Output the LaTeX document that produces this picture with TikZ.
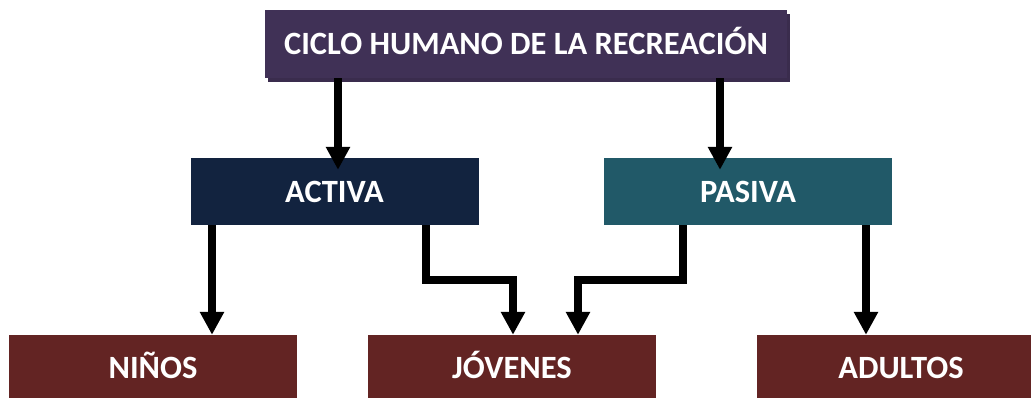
\documentclass[tikz,border=0pt]{standalone}
\usepackage{fontspec}
\setmainfont{Carlito}
\usetikzlibrary{arrows.meta,shadows}

\definecolor{ciclo}{HTML}{403156}
\definecolor{activa}{HTML}{12233F}
\definecolor{pasiva}{HTML}{215968}
\definecolor{edad}{HTML}{632423}

\begin{document}
\begin{tikzpicture}[x=1pt, y=-1pt,
    caja/.style={rectangle, minimum width=288pt, minimum height=67pt, text=white,
      font=\fontsize{32.5}{38}\selectfont\bfseries, text height=21pt, text depth=0pt},
    flecha/.style={line width=8pt, -{Triangle[length=23pt,width=23pt]}}]
    \useasboundingbox (0,0) rectangle (1031,397);

    \node[caja, fill=ciclo, minimum width=522pt, minimum height=68pt,
      drop shadow={shadow xshift=3pt, shadow yshift=-4pt, fill=ciclo!90!black, opacity=1}]
      (ciclo) at (526,44) {CICLO HUMANO DE LA RECREACIÓN};
    \node[caja, fill=activa] (activa) at (334.5,191.5) {ACTIVA};
    \node[caja, fill=pasiva] (pasiva) at (748,191.5) {PASIVA};
    \node[caja, fill=edad, minimum height=65pt] (ninos) at (153,367.5) {NIÑOS};
    \node[caja, fill=edad, minimum height=65pt] (jovenes) at (512,367.5) {JÓVENES};
    \node[caja, fill=edad, minimum height=65pt] (adultos) at (901,367.5) {ADULTOS};

    \draw[flecha, shorten >=-12pt] ([xshift=-188]ciclo.south) -- ([xshift=-188]ciclo.south |- activa.north);
    \draw[flecha, shorten >=-12pt] ([xshift=194]ciclo.south) -- ([xshift=194]ciclo.south |- pasiva.north);
    \draw[flecha] ([xshift=-122.5]activa.south) -- ([xshift=-122.5]activa.south |- ninos.north);
    \draw[flecha] ([xshift=91]activa.south) -- ++(0,55) -| ([xshift=1]jovenes.north);
    \draw[flecha] ([xshift=-65]pasiva.south) -- ++(0,55) -| ([xshift=66]jovenes.north);
    \draw[flecha] ([xshift=118]pasiva.south) -- ([xshift=118]pasiva.south |- adultos.north);
  \end{tikzpicture}
\end{document}
